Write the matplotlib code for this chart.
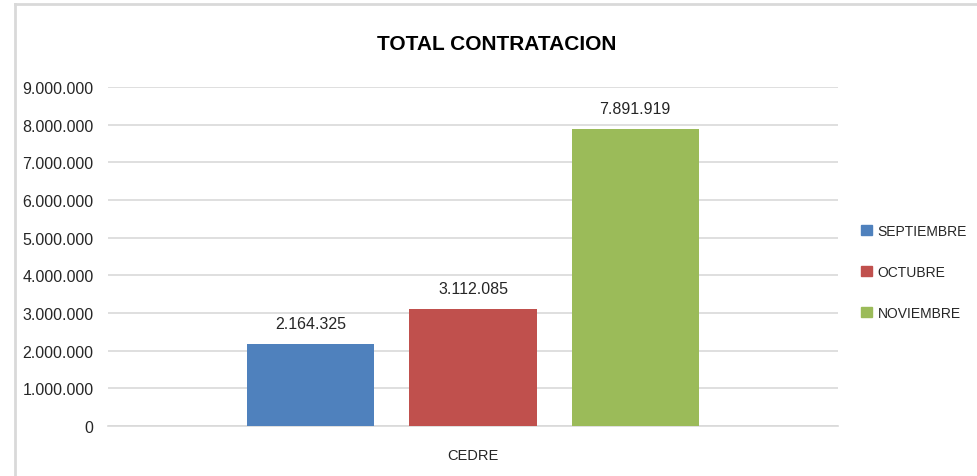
import matplotlib
matplotlib.use("Agg")
import matplotlib.pyplot as plt
from matplotlib.patches import Rectangle
from matplotlib.lines import Line2D

series = ["SEPTIEMBRE", "OCTUBRE", "NOVIEMBRE"]
values = [2164325, 3112085, 7891919]
colors = ["#4F81BD", "#C0504D", "#9BBB59"]
category = "CEDRE"
title = "TOTAL CONTRATACION"
yticks = [0, 1000000, 2000000, 3000000, 4000000, 5000000, 6000000, 7000000, 8000000, 9000000]

def fmt(v):
    return f"{v:,}".replace(",", ".")

plt.rcParams["font.family"] = ["Liberation Sans", "DejaVu Sans"]

W, H = 978, 477
fig = plt.figure(figsize=(W / 100, H / 100), dpi=100)
ax = fig.add_axes([108 / W, 1 - 427 / H, (838 - 108) / W, (427 - 88) / H])

positions = [-1, 0, 1]
bw = 127 / 162
for p, v, c, s in zip(positions, values, colors, series):
    ax.bar(p, v, width=bw, color=c, label=s, zorder=3)
    ax.annotate(fmt(v), (p, v), xytext=(0, 9.5), textcoords="offset points",
                ha="center", va="bottom", fontsize=11.5, color="#262626")

ax.set_xlim(-2.253, 2.253)
ax.set_ylim(0, 9000000)
ax.set_yticks(yticks)
ax.set_yticklabels([fmt(t) for t in yticks], fontsize=11.5, color="#262626")
ax.set_xticks([0])
ax.set_xticklabels([category], fontsize=10.5, color="#262626")
ax.tick_params(axis="both", length=0)
ax.tick_params(axis="y", pad=10.5)
ax.tick_params(axis="x", pad=16)
ax.grid(axis="y", color="#D9D9D9", linewidth=1.2, zorder=0)
for sp in ["top", "right", "left"]:
    ax.spines[sp].set_visible(False)
ax.spines["bottom"].set_color("#D9D9D9")
ax.spines["bottom"].set_linewidth(1.2)

fig.text(497 / W, 1 - 44 / H, title, ha="center", va="center",
         fontsize=15, fontweight="bold", color="black")

handles = [Rectangle((0, 0), 1, 1, color=c) for c in colors]
fig.legend(handles, series, loc="center left", bbox_to_anchor=(849 / W, 1 - 273 / H),
           frameon=False, fontsize=10, handlelength=0.75, handleheight=0.75,
           handletextpad=0.4, labelspacing=1.95, labelcolor="#262626")

# outer frame edges
fig.add_artist(Line2D([15 / W, 15 / W], [0, 1 - 5 / H], transform=fig.transFigure,
                      color="#D9D9D9", linewidth=2))
fig.add_artist(Line2D([15 / W, 1], [1 - 5 / H, 1 - 5 / H], transform=fig.transFigure,
                      color="#D9D9D9", linewidth=2))

fig.savefig("out.png", dpi=100)
